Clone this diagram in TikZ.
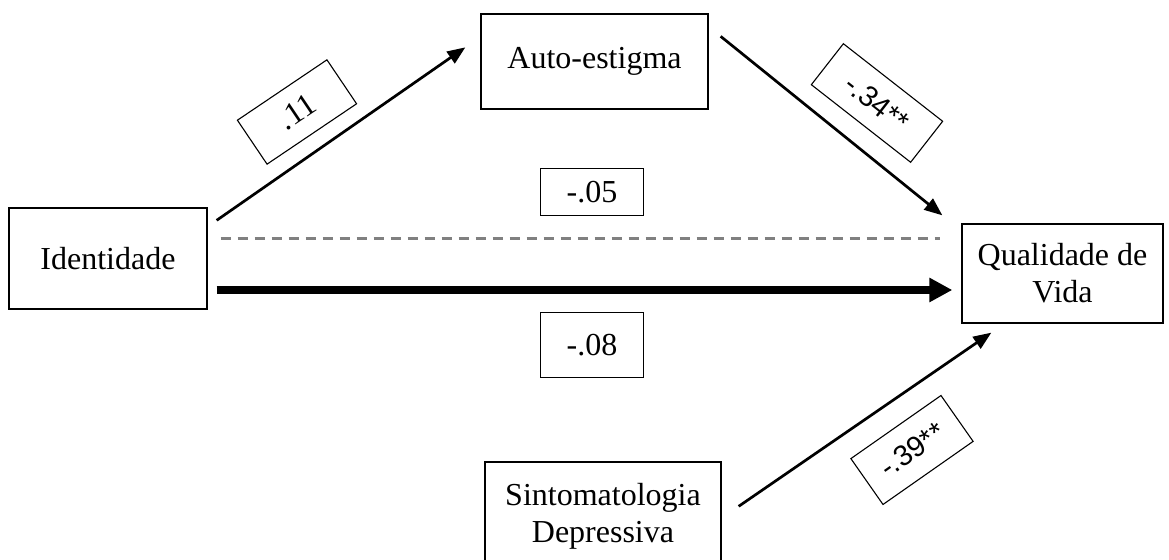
\documentclass[tikz,border=0pt]{standalone}
\usepackage{fontspec}
\setmainfont{Liberation Serif}
\newfontfamily\arialfont{Liberation Sans}
\usetikzlibrary{arrows.meta}
\tikzset{%
  % boxes
  var/.style={draw, line width=0.65pt, align=center, inner sep=0pt,
    font=\fontsize{16}{18.5}\selectfont},
  coef/.style={draw, line width=0.55pt, align=center, inner sep=0pt,
    font=\fontsize{16}{18}\selectfont},
  coefsans/.style={coef, font=\arialfont\fontsize{14.5}{17}\selectfont},
  % edge styles
  link/.style={-{Triangle[length=9pt,width=7pt]}, line width=1.35pt},
  total/.style={-{Triangle[length=11.5pt,width=11.5pt]}, line width=4pt},
  direct/.style={line width=1.5pt, draw=gray, dash pattern=on 5pt off 3.5pt},
}

\begin{document}
\begin{tikzpicture}[x=0.5pt, y=-0.5pt]
  \clip (0,0) rectangle (1169,560);

  % Variables
  \node[var, minimum width=99pt, minimum height=50.5pt] (id) at (108,258.5) {Identidade};
  \node[var, minimum width=113.5pt, minimum height=47.5pt] (auto) at (594.5,61.5) {Auto-estigma};
  \node[var, minimum width=100.5pt, minimum height=49.5pt] (qv) at (1062.5,273.5) {Qualidade de\\Vida};
  \node[var, minimum width=118pt, minimum height=54pt] (dep) at (603,516) {Sintomatologia\\Depressiva};

  % Coefficients
  \node[coef, rotate=34, minimum width=54pt, minimum height=26.5pt] (c_a) at (297,112) {.11};
  \node[coefsans, rotate=-38, minimum width=63pt, minimum height=26pt] (c_b) at (877,103) {-.34**};
  \node[coef, minimum width=51.5pt, minimum height=23.5pt] (c_dir) at (592,192) {-.05};
  \node[coef, minimum width=51.5pt, minimum height=32.5pt] (c_tot) at (592,345) {-.08};
  \node[coefsans, rotate=35, minimum width=55pt, minimum height=28pt] (c_dep) at (912,450) {-.39**};

  % Paths
  \draw[link] ([shift={(9,13)}]id.north east) -- ([shift={(-15,34)}]auto.north west);
  \draw[link] ([shift={(12,23)}]auto.north east) -- ([shift={(-19,-8)}]qv.north west);
  \draw[link] ([shift={(17,45)}]dep.north east) -- ([shift={(30,9)}]qv.south west);

  % Direct and total effect
  \draw[direct] ([shift={(13,-19.5)}]id.east) -- ([shift={(-21,-34.5)}]qv.west);
  \draw[total] ([shift={(9,31.5)}]id.east) -- ([shift={(-9,16.5)}]qv.west);
\end{tikzpicture}
\end{document}
